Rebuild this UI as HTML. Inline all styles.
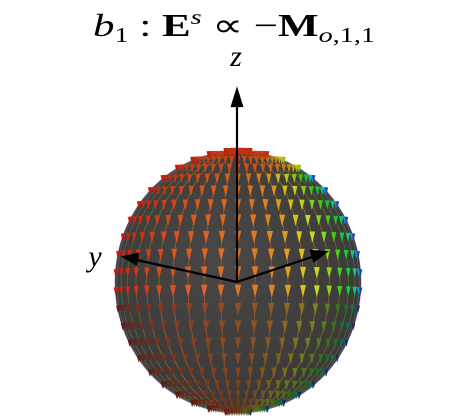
<!DOCTYPE html>
<html><head><meta charset="utf-8"><style>
html,body{margin:0;padding:0;background:#fff;width:470px;height:418px;overflow:hidden}
svg text{font-family:"Liberation Serif",serif}
</style></head><body>
<svg id="chart" width="470" height="418" viewBox="0 0 470 418" xmlns="http://www.w3.org/2000/svg">
<text x="234" y="36" text-anchor="middle" font-size="32" textLength="282" lengthAdjust="spacingAndGlyphs"><tspan font-style="italic">b</tspan><tspan font-size="21" dy="6">1</tspan><tspan dy="-6"> : </tspan><tspan font-weight="bold">E</tspan><tspan font-size="21" font-style="italic" dy="-12">s</tspan><tspan dy="12"> ∝ −</tspan><tspan font-weight="bold">M</tspan><tspan font-size="21" dy="6" font-style="italic">o</tspan><tspan font-size="21">,1,1</tspan></text>
<text x="236" y="66" text-anchor="middle" font-size="30" font-style="italic">z</text>
<text x="95" y="266" text-anchor="middle" font-size="30" font-style="italic">y</text>
<defs><radialGradient id="sg" cx="45%" cy="40%" r="65%"><stop offset="0" stop-color="#4a4846"/><stop offset="1" stop-color="#3a3836"/></radialGradient></defs>
<ellipse cx="238" cy="282" rx="123" ry="131" fill="url(#sg)"/>
<g id="lines"></g>
<g id="arrows"></g>
<g stroke="#000" stroke-width="2.2" fill="#000">
<line x1="237" y1="282" x2="237" y2="102"/>
<polygon points="237,90 232,106 242,106"/>
<line x1="237" y1="282" x2="132" y2="259"/>
<polygon points="124,257 138,254 136,264"/>
<line x1="237" y1="282" x2="315" y2="256"/>
<polygon points="326,252 311,251 314,261"/>
</g>
</svg>
<script>
// Sample grid (lat/lon in degrees) of the field
const latitudes=[-84,-76,-68,-60,-52,-44,-36,-28,-20,-12,-4,4,12,20,28,36,44,52,60,68,76,84];
const longitudes=[-88,-80,-72,-64,-56,-48,-40,-32,-24,-16,-8,0,8,16,24,32,40,48,56,64,72,80,88];
const cx=238,cy=282,rx=123,ry=131;
const g=document.getElementById('arrows');
const gl=document.getElementById('lines');
const NS='http://www.w3.org/2000/svg';
function hueFor(lon,lat){
  let t=(lon+90)/180;
  let h = t<0.5 ? t*2*25 : 25+Math.pow((t-0.5)*2,2)*210;
  if(lat>55) h=Math.min(h,10+(lat<70?h*0.3:0));
  return h;
}
longitudes.forEach(lon=>{
  const lo=lon*Math.PI/180;
  const xr=rx*Math.sin(lo);
  const p=document.createElementNS(NS,'ellipse');
  p.setAttribute('cx',cx);p.setAttribute('cy',cy);
  p.setAttribute('rx',Math.abs(xr));p.setAttribute('ry',ry);
  p.setAttribute('fill','none');
  p.setAttribute('stroke',`hsla(${hueFor(lon,0)},70%,45%,0.35)`);
  p.setAttribute('stroke-width','0.8');
  
  
  gl.appendChild(p);
});
latitudes.forEach(lat=>{
  longitudes.forEach(lon=>{
    const la=lat*Math.PI/180, lo=lon*Math.PI/180;
    const x=cx+rx*Math.cos(la)*Math.sin(lo);
    const y=cy-ry*Math.sin(la);
    const depth=Math.cos(la)*Math.cos(lo);
    const s=3.5+3*depth;
    const h=hueFor(lon,lat);
    const light=lat<-5?22+14*depth:40+14*depth;
    const sat=lat<-5?65:85;
    const p=document.createElementNS(NS,'polygon');
    p.setAttribute('points',`${x-s/2},${y-s} ${x+s/2},${y-s} ${x},${y+s}`);
    p.setAttribute('fill',`hsl(${h},${sat}%,${light}%)`);
    p.setAttribute('opacity','0.9');
    
    
    g.appendChild(p);
  });
});
</script>
</body></html>
